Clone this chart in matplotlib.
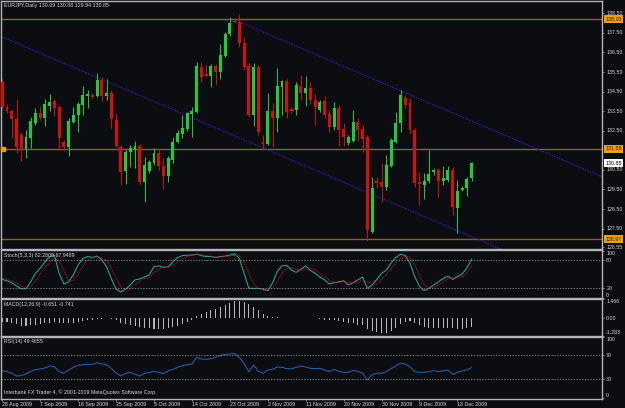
import matplotlib
matplotlib.use("Agg")
import matplotlib.pyplot as plt
import numpy as np

plt.rcParams["font.family"] = ["Liberation Sans", "DejaVu Sans"]

# ---- data (EURJPY daily, bar 0 = 28 Aug 2009) ----
opens = [135.01, 133.73, 133.51, 133.10, 132.28, 131.55, 132.13, 132.88, 133.39, 133.14,
         133.77, 134.02, 133.70, 131.93, 131.69, 132.96, 133.31, 133.82, 134.29, 134.33,
         134.28, 135.09, 134.28, 134.45, 133.05, 131.69, 130.45, 131.43, 131.52, 131.72,
         129.90, 130.45, 130.84, 131.35, 130.72, 130.21, 131.01, 131.94, 132.32, 132.57,
         133.36, 133.47, 135.77, 135.40, 135.30, 135.81, 135.52, 136.33, 137.43, 138.12,
         138.04, 136.97, 135.81, 133.31, 135.74, 131.94, 131.83, 133.51, 133.14, 134.76,
         135.04, 133.61, 133.56, 134.79, 134.41, 134.70, 134.07, 133.56, 134.02, 133.34,
         132.71, 133.68, 132.58, 131.86, 131.96, 132.96, 132.58, 132.17, 127.35, 129.95,
         129.90, 129.61, 130.72, 131.94, 132.88, 134.16, 133.90, 132.54, 129.87, 129.73,
         129.94, 130.38, 130.50, 129.94, 129.99, 130.50, 128.57, 129.48, 129.56, 130.09]
highs = [135.14, 133.87, 133.61, 134.12, 132.45, 132.54, 133.20, 133.68, 133.77, 134.11,
         134.36, 134.12, 133.82, 132.03, 133.15, 133.70, 133.97, 134.79, 134.58, 134.43,
         135.47, 135.26, 135.14, 134.58, 133.39, 131.77, 131.52, 131.77, 131.98, 131.83,
         131.18, 131.01, 131.61, 131.52, 131.11, 131.21, 132.20, 132.54, 133.31, 133.46,
         133.70, 136.03, 136.03, 135.86, 135.91, 135.91, 136.92, 137.55, 138.30, 138.24,
         138.45, 137.29, 135.96, 135.95, 135.86, 132.28, 134.45, 133.93, 135.69, 135.09,
         135.14, 133.73, 135.01, 135.35, 135.30, 135.01, 134.38, 134.07, 134.28, 133.56,
         133.99, 133.82, 132.88, 132.28, 133.56, 133.15, 132.80, 132.28, 130.15, 130.15,
         130.84, 131.26, 132.13, 133.47, 134.58, 134.33, 134.19, 132.64, 130.41, 130.33,
         131.52, 130.58, 130.61, 130.72, 130.72, 130.67, 129.99, 129.68, 130.15, 130.88]
lows = [133.66, 133.41, 132.12, 131.38, 130.96, 131.11, 131.61, 132.80, 133.05, 132.74,
        133.53, 133.25, 131.52, 131.48, 131.23, 132.90, 132.45, 133.31, 133.65, 134.11,
        134.23, 134.02, 134.07, 132.66, 131.67, 129.73, 129.77, 130.67, 130.58, 129.78,
        128.88, 130.34, 130.75, 130.50, 129.53, 129.90, 130.84, 131.88, 132.13, 132.49,
        132.20, 133.41, 134.98, 135.25, 134.72, 134.84, 135.13, 136.27, 137.34, 138.00,
        136.79, 135.60, 133.22, 132.74, 132.28, 131.55, 131.77, 131.69, 132.45, 133.31,
        133.14, 133.39, 133.31, 134.07, 133.77, 133.87, 132.80, 133.46, 133.14, 132.45,
        132.54, 131.72, 131.72, 131.77, 131.93, 131.96, 131.43, 126.86, 127.28, 129.56,
        128.88, 129.48, 130.65, 131.88, 132.45, 133.65, 132.37, 129.61, 128.71, 129.00,
        129.82, 130.24, 129.13, 129.73, 129.88, 128.20, 127.26, 129.42, 129.17, 129.94]
closes = [133.73, 133.51, 133.09, 131.69, 131.52, 132.17, 133.01, 133.39, 133.14, 133.87,
          133.99, 133.68, 132.12, 131.69, 133.01, 133.31, 133.87, 134.33, 134.38, 134.24,
          135.09, 134.28, 134.45, 133.09, 131.74, 130.41, 131.43, 131.64, 131.72, 129.90,
          130.75, 130.89, 131.35, 130.72, 130.21, 131.09, 131.94, 132.40, 132.66, 133.39,
          133.51, 135.81, 135.26, 135.30, 135.81, 135.52, 136.37, 137.43, 138.02, 138.04,
          136.97, 135.77, 133.31, 135.74, 132.45, 131.83, 133.51, 133.14, 134.79, 135.04,
          133.47, 133.51, 134.84, 134.41, 134.67, 134.07, 133.73, 133.95, 133.31, 132.71,
          133.65, 132.54, 132.20, 132.17, 132.96, 132.54, 132.06, 127.43, 129.56, 129.82,
          129.64, 130.75, 132.03, 132.91, 134.33, 133.82, 132.54, 129.82, 129.77, 129.95,
          130.28, 130.50, 129.95, 130.07, 130.50, 128.59, 129.44, 129.58, 130.02, 130.85]

stoch_main = [39, 36, 32, 25, 19, 19, 34, 52, 63, 77, 88, 90, 52, 29, 34, 49, 70, 84, 88, 86,
              89, 81, 66, 41, 18, 12, 18, 27, 38, 40, 44, 49, 66, 68, 65, 66, 77, 86, 90, 91,
              91, 93, 90, 88, 88, 86, 88, 89, 91, 94, 84, 52, 20, 20, 20, 18, 15, 31, 56, 68,
              69, 59, 54, 61, 68, 58, 52, 44, 38, 29, 32, 34, 36, 27, 32, 38, 44, 20, 27, 39,
              52, 59, 74, 86, 93, 90, 74, 45, 24, 15, 20, 27, 34, 41, 46, 39, 45, 51, 63, 82.28]
stoch_signal = [42, 39, 36, 31, 25, 21, 24, 35, 50, 64, 76, 85, 77, 57, 38, 37, 51, 68, 81, 86,
                88, 85, 79, 63, 42, 24, 16, 19, 28, 35, 41, 44, 53, 61, 66, 66, 69, 76, 84, 89,
                91, 92, 91, 90, 89, 87, 87, 88, 89, 91, 90, 77, 52, 31, 20, 19, 18, 21, 34, 52,
                64, 65, 61, 58, 61, 63, 59, 52, 45, 37, 33, 32, 34, 32, 32, 32, 38, 34, 30, 29,
                39, 50, 62, 73, 84, 90, 86, 70, 48, 28, 20, 21, 27, 34, 40, 42, 43, 45, 53, 67.95]
macd_hist = [-0.26, -0.26, -0.34, -0.44, -0.54, -0.57, -0.52, -0.47, -0.41, -0.36,
             -0.31, -0.28, -0.34, -0.36, -0.36, -0.31, -0.23, -0.18, -0.13, -0.10,
             -0.05, -0.03, 0.04, -0.05, -0.15, -0.31, -0.44, -0.52, -0.59, -0.67,
             -0.72, -0.75, -0.78, -0.78, -0.78, -0.75, -0.67, -0.54, -0.39, -0.23,
             -0.10, 0.16, 0.36, 0.52, 0.62, 0.72, 0.88, 1.03, 1.19, 1.29,
             1.29, 1.24, 1.09, 0.85, 0.62, 0.36, 0.21, 0.10, 0.08, 0.05,
             0.05, 0.03, 0.05, 0.05, 0.05, 0.05, 0.02, -0.05, -0.10, -0.15,
             -0.10, -0.21, -0.26, -0.31, -0.36, -0.47, -0.52, -0.83, -0.93, -1.01,
             -1.06, -1.06, -0.98, -0.75, -0.41, -0.26, -0.18, -0.36, -0.49, -0.62,
             -0.70, -0.72, -0.75, -0.75, -0.72, -0.75, -0.80, -0.78, -0.70, -0.651]
rsi = [44.2, 42.6, 40.4, 35.5, 36.0, 38.8, 43.2, 45.9, 47.0, 48.6,
       51.9, 50.8, 42.6, 39.9, 45.3, 49.7, 53.0, 54.1, 54.7, 54.7,
       57.4, 55.2, 54.1, 48.1, 40.4, 35.5, 39.9, 41.5, 38.2, 35.5,
       39.9, 41.0, 43.2, 41.5, 39.3, 44.2, 46.4, 49.7, 52.5, 54.1,
       55.2, 66.2, 63.4, 62.9, 64.0, 66.2, 69.5, 71.1, 71.6, 72.7,
       66.2, 56.3, 42.6, 53.6, 43.7, 39.9, 45.3, 46.4, 50.3, 49.7,
       47.5, 47.5, 49.7, 51.9, 50.3, 48.1, 47.5, 48.1, 45.3, 42.6,
       46.4, 43.2, 41.5, 41.5, 44.8, 43.2, 39.9, 28.9, 37.7, 39.9,
       39.9, 42.6, 47.5, 51.9, 56.3, 55.2, 50.8, 42.6, 41.5, 41.5,
       42.6, 44.2, 42.6, 44.2, 45.3, 38.2, 41.5, 43.7, 45.3, 49.47]

date_idx = [0, 8, 16, 24, 32, 40, 48, 56, 64, 72, 80, 88, 96]
date_labels = ["28 Aug 2009", "7 Sep 2009", "16 Sep 2009", "25 Sep 2009", "5 Oct 2009",
               "14 Oct 2009", "23 Oct 2009", "2 Nov 2009", "11 Nov 2009", "20 Nov 2009",
               "30 Nov 2009", "9 Dec 2009", "18 Dec 2009"]

price_ticks = [138.50, 137.50, 136.50, 135.50, 134.50, 133.50, 132.50,
               130.50, 129.50, 128.50, 127.50, 126.55]
hlines = [138.20, 131.58, 126.97]
lower_line_x = [-0.3, 105.2]
lower_line_y = [137.32, 126.45]
upper_line_x = [50.0, 126.6]
upper_line_y = [138.07, 130.14]

title = "EURJPY,Daily 130.09 130.88 129.94 130.85"

# ---- style ----
W, H = 625, 408
BG = "#0b0d10"
GRID = "#b4b4b4"
TXT = "#d8d8d8"
UP = "#12d23c"
DOWN = "#dc0a0a"
ORANGE = "#f0a000"
HLINE = "#946018"
TREND = "#4412b0"
FS = 3.8
XLIM = (-0.27, 126.5)

fig = plt.figure(figsize=(W / 100, H / 100), dpi=100, facecolor=BG)


def px_axes(x0, y0, x1, y1):
    ax = fig.add_axes([x0 / W, 1 - y1 / H, (x1 - x0) / W, (y1 - y0) / H])
    ax.set_facecolor(BG)
    for sp in ax.spines.values():
        sp.set_color(GRID)
        sp.set_linewidth(1.0)
    ax.set_xlim(*XLIM)
    ax.set_xticks([])
    ax.yaxis.tick_right()
    ax.tick_params(axis="y", length=1.5, width=0.5, color=GRID, labelright=False, labelleft=False)
    return ax


def right_labels(ax, values, texts, vas):
    ax.set_yticks(values)
    tr = ax.get_yaxis_transform()
    for v, t, va in zip(values, texts, vas):
        ax.text(1.007, v, t, transform=tr, va=va, ha="left", fontsize=FS, color=TXT, clip_on=False)


main = px_axes(1, 1, 602, 249)
stoch = px_axes(1, 250, 602, 298)
macd = px_axes(1, 299, 602, 335.5)
rsi_ax = px_axes(1, 336.5, 602, 398.5)

# ---- candles ----
idx = np.arange(len(closes))
o = np.array(opens)
c = np.array(closes)
up = c >= o
colors = np.where(up, UP, DOWN)
main.vlines(idx, lows, highs, colors=colors, linewidth=0.7, zorder=2)
body_h = np.maximum(np.abs(c - o), 0.04)
main.bar(idx, body_h, bottom=np.minimum(o, c), width=0.62, color=colors, linewidth=0, zorder=3)

for lv in hlines:
    main.axhline(lv, color=HLINE, linewidth=1.0, zorder=1)
main.plot(lower_line_x, lower_line_y, color=TREND, linewidth=0.8, linestyle=(0, (1.5, 0.8)), zorder=1)
main.plot(upper_line_x, upper_line_y, color=TREND, linewidth=0.8, linestyle=(0, (1.5, 0.8)), zorder=1)
main.plot(0.004, hlines[1], "s", transform=main.get_yaxis_transform(), ms=2.2,
          color=ORANGE, clip_on=False, zorder=4)

main.set_ylim(126.46, 139.13)
right_labels(main, price_ticks, ["%.2f" % v for v in price_ticks], ["center"] * len(price_ticks))
tr = main.get_yaxis_transform()
for lv in hlines:
    main.text(1.006, lv, "%.2f" % lv, transform=tr, va="center", ha="left", fontsize=FS,
              color="#1a1a1a", clip_on=False, zorder=5,
              bbox=dict(boxstyle="square,pad=0.25", fc=ORANGE, ec="none"))
main.text(1.006, closes[-1], "%.2f" % closes[-1], transform=tr, va="center", ha="left",
          fontsize=FS, color="#000000", clip_on=False, zorder=5,
          bbox=dict(boxstyle="square,pad=0.25", fc="#ffffff", ec="none"))
main.text(0.005, 0.982, title, transform=main.transAxes, fontsize=FS, color=TXT, va="center")

# ---- stochastic ----
stoch.plot(idx, stoch_main, color="#20b2aa", linewidth=0.7)
stoch.plot(idx, stoch_signal, color="#e01010", linewidth=0.7, linestyle=(0, (1, 1)))
for lv in (20, 80):
    stoch.axhline(lv, color="#a0a0a0", linewidth=0.5, linestyle=(0, (2, 2)))
stoch.set_ylim(-0.8, 102)
right_labels(stoch, [100, 80, 20, 0], ["100", "80", "20", "0"], ["top", "center", "center", "bottom"])
stoch.text(0.005, 0.89, "Stoch(5,3,3) 82.2809 67.9489", transform=stoch.transAxes,
           fontsize=FS, color=TXT, va="center")

# ---- MACD ----
macd.bar(idx, macd_hist, width=0.22, color="#b8b8b8", linewidth=0)
macd.set_ylim(-1.283, 1.466)
right_labels(macd, [1.466, 0.0, -1.283], ["1.466", "0.00", "-1.283"], ["top", "center", "bottom"])
macd.text(0.005, 0.836, "MACD(12,26,9) -0.651 -0.741", transform=macd.transAxes,
          fontsize=FS, color=TXT, va="center")

# ---- RSI ----
rsi_ax.plot(idx, rsi, color="#2266bb", linewidth=0.7)
for lv in (30, 70):
    rsi_ax.axhline(lv, color="#a0a0a0", linewidth=0.5, linestyle=(0, (2, 2)))
rsi_ax.set_ylim(-1.6, 100.5)
right_labels(rsi_ax, [100, 70, 30, 0], ["100", "70", "30", "0"], ["top", "center", "center", "bottom"])
rsi_ax.text(0.005, 0.916, "RSI(14) 49.4655", transform=rsi_ax.transAxes,
            fontsize=FS, color=TXT, va="center")
rsi_ax.text(0.005, 0.10, "Interbank FX Trader 4, \u00a9 2001-2009 MetaQuotes Software Corp.",
            transform=rsi_ax.transAxes, fontsize=FS, color=TXT, va="center")

rsi_ax.set_xticks(date_idx)
rsi_ax.set_xticklabels(date_labels, ha="left", fontsize=FS, color=TXT)
rsi_ax.tick_params(axis="x", length=1.5, width=0.5, color=GRID, pad=0.8)

fig.savefig("out.png", dpi=100, facecolor=BG)
